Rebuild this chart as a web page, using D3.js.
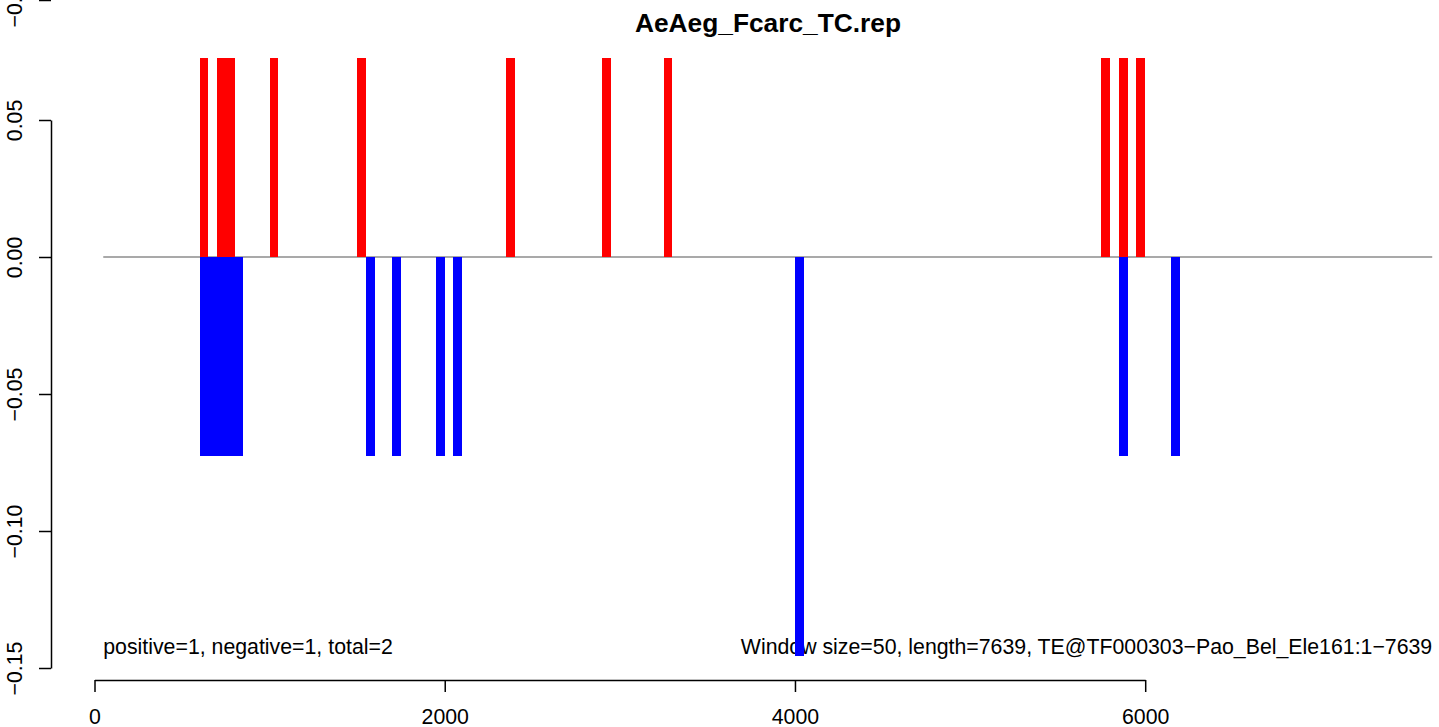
<!DOCTYPE html>
<html><head><meta charset="utf-8">
<script src="https://cdn.jsdelivr.net/npm/d3@7"></script>
<style>
body{margin:0;background:#fff}
svg{display:block}
text{font-family:"Liberation Sans",Arial,Helvetica,sans-serif;fill:#000}
</style>
</head><body>
<svg id="chart" width="1439" height="727"></svg>
<script>
// ---- data ----
const chartTitle = "AeAeg_Fcarc_TC.rep";
const windowSize = 50;
const seqStart = 50;
const seqEnd = 7639;
const plusStarts = [600, 700, 750, 1000, 1500, 2350, 2900, 3250, 5750, 5850, 5950];
const plusValues = [0.0728, 0.0728, 0.0728, 0.0728, 0.0728, 0.0728, 0.0728, 0.0728, 0.0728, 0.0728, 0.0728];
const minusStarts = [600, 650, 700, 750, 800, 1550, 1700, 1950, 2050, 4000, 5850, 6150];
const minusValues = [-0.0728, -0.0728, -0.0728, -0.0728, -0.0728, -0.0728, -0.0728, -0.0728, -0.0728, -0.1456, -0.0728, -0.0728];
const xTicks = [0, 2000, 4000, 6000];
const yTicks = [-0.15, -0.10, -0.05, 0.00, 0.05];
const yTickLabels = ["\u22120.15", "\u22120.10", "\u22120.05", "0.00", "0.05"];
const abovePanelTick = ["\u22120.15"];
const leftNote = "positive=1, negative=1, total=2";
const rightNote = "Window size=50, length=7639, TE@TF000303\u2212Pao_Bel_Ele161:1\u22127639";

// ---- layout ----
const svg = d3.select("#chart");
const x = d3.scaleLinear().domain([0, 6000]).range([94.5, 1145.2]);
const y = d3.scaleLinear().domain([-0.15, 0.05]).range([668, 120]);
const axisFont = 21.3;
const yAxisX = 51;

// title
svg.append("text")
  .attr("x", 768).attr("y", 31.5)
  .attr("text-anchor", "middle")
  .style("font-weight", "bold").style("font-size", "26.3px")
  .text(chartTitle);

// notes
svg.append("text")
  .attr("x", x(seqStart)).attr("y", 654)
  .style("font-size", axisFont + "px")
  .text(leftNote);
svg.append("text")
  .attr("x", x(seqEnd)).attr("y", 654)
  .attr("text-anchor", "end")
  .style("font-size", axisFont + "px")
  .text(rightNote);

// zero line
svg.append("line")
  .attr("x1", x(seqStart)).attr("x2", x(seqEnd))
  .attr("y1", y(0)).attr("y2", y(0))
  .attr("stroke", "#555").attr("stroke-width", 1.2);

// bars
function drawBars(starts, values, color) {
  const rows = starts.map((s, i) => ({s, v: values[i]}));
  svg.append("g").selectAll("rect").data(rows).join("rect")
    .attr("x", d => x(d.s))
    .attr("width", d => x(d.s + windowSize) - x(d.s))
    .attr("y", d => Math.min(y(d.v), y(0)))
    .attr("height", d => Math.abs(y(d.v) - y(0)))
    .attr("fill", color)
    .attr("shape-rendering", "crispEdges");
}
drawBars(plusStarts, plusValues, "#ff0000");
drawBars(minusStarts, minusValues, "#0000ff");

// x axis
const gx = svg.append("g").attr("transform", "translate(0,680)")
  .call(d3.axisBottom(x).tickValues(xTicks).tickFormat(d3.format("d")).tickSize(12).tickSizeOuter(0));
gx.selectAll("path,line").attr("stroke", "#000").attr("stroke-width", 1.5);
gx.selectAll("text").attr("y", 44).attr("dy", 0)
  .style("font-size", axisFont + "px").style("font-family", '"Liberation Sans",Arial,sans-serif').attr("fill", "#000");

// y axis
const gy = svg.append("g").attr("transform", `translate(${yAxisX},0)`)
  .call(d3.axisLeft(y).tickValues(yTicks).tickFormat((d, i) => yTickLabels[i]).tickSize(12).tickSizeOuter(0));
gy.selectAll("path,line").attr("stroke", "#000").attr("stroke-width", 1.5);
gy.selectAll("text")
  .attr("transform", "rotate(-90)")
  .attr("x", 0).attr("y", -29).attr("dy", 0)
  .attr("text-anchor", "middle")
  .style("font-size", axisFont + "px").style("font-family", '"Liberation Sans",Arial,sans-serif').attr("fill", "#000");

// partial tick of the panel above (cut by the image edge)
const gTop = svg.append("g").attr("transform", `translate(${yAxisX},0.5)`);
gTop.append("line").attr("x1", -12).attr("x2", 0).attr("stroke", "#000").attr("stroke-width", 1.5);
gTop.append("text").attr("transform", "rotate(-90)").attr("x", 0).attr("y", -29)
  .attr("text-anchor", "middle").style("font-size", axisFont + "px")
  .text(abovePanelTick[0]);
</script>
</body></html>
